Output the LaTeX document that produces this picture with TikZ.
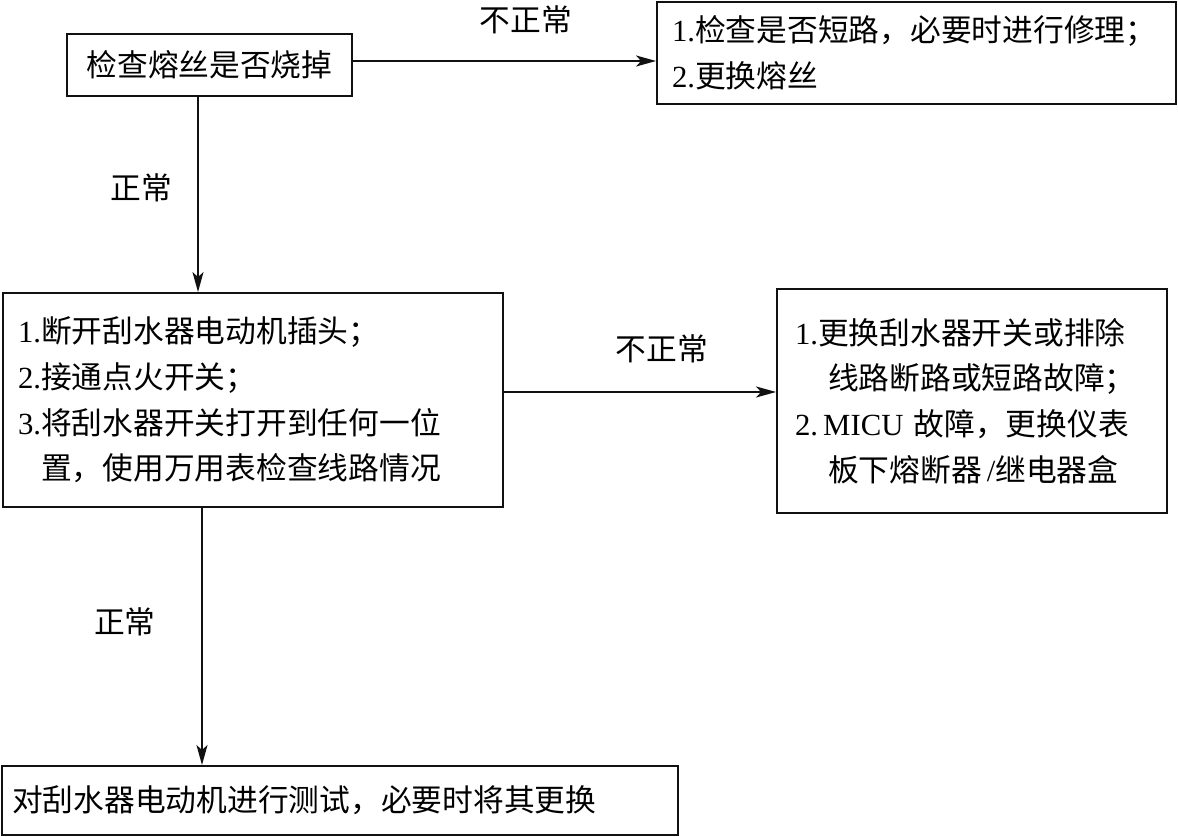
\documentclass[tikz,border=0pt]{standalone}
\usepackage{fontspec}
\setmainfont{Liberation Serif}
\newfontfamily\cjk{Noto Sans CJK SC}
\usetikzlibrary{arrows.meta,positioning}
\definecolor{ink}{HTML}{111111}
\newcommand\boxfont{\fontsize{17.5}{26}\selectfont}
\tikzset{
  flowbox/.style={draw=ink,line width=1.1pt,inner sep=0pt,
                  align=center,font=\boxfont},
  listbox/.style={draw=ink,line width=1.1pt,inner ysep=0pt,
                  align=left,font=\boxfont},
  caselabel/.style={inner sep=0pt,font=\boxfont\cjk},
  flowarr/.style={-{Stealth[length=4mm,width=2.2mm,inset=1mm]},line width=1.1pt,color=ink}
}

\begin{document}
\begin{tikzpicture}[x=0.02cm,y=-0.02cm]
  \useasboundingbox (0,0) rectangle (1178,837);
  % boxes
  \node[flowbox,minimum width=5.7cm,minimum height=1.24cm] (fuse) at (209.5,65)
    {{\cjk 检查熔丝是否烧掉}};
  \node[listbox,text width=9.78cm,inner xsep=0.3cm,minimum height=2.04cm] (repair) at (916.5,53)
    {1.{\cjk 检查是否短路，必要时进行修理；}\\2.{\cjk 更换熔丝}};
  \node[listbox,text width=9.4cm,inner xsep=0.3cm,minimum height=4.28cm] (wiring) at (253,400)
    {1.{\cjk 断开刮水器电动机插头；}\\
     2.{\cjk 接通点火开关；}\\
     3.{\cjk 将刮水器开关打开到任何一位}\\
     \phantom{3.}{\cjk 置，使用万用表检查线路情况}};
  \node[listbox,text width=7.08cm,inner xsep=0.36cm,minimum height=4.48cm] (switch) at (972,401)
    {1.{\cjk 更换刮水器开关或排除}\\
     \hspace*{0.66cm}{\cjk 线路断路或短路故障；}\\
     2.\,MICU\ {\cjk 故障，更换仪表}\\
     \hspace*{0.66cm}{\cjk 板下熔断器}\,/{\cjk 继电器盒}};
  \node[listbox,text width=13.12cm,inner xsep=0.2cm,minimum height=1.38cm] (motor) at (340,800.5)
    {{\cjk 对刮水器电动机进行测试，必要时将其更换}};
  % labels
  \node[caselabel] (bad1) at (526,20) {不正常};
  \node[caselabel] (ok1) at (141,188) {正常};
  \node[caselabel] (bad2) at (662,349) {不正常};
  \node[caselabel] (ok2) at (125,622) {正常};
  % arrows
  \draw[flowarr] (fuse.east |- 0,61) -- (repair.west |- 0,61);
  \draw[flowarr] (fuse.south -| 198,0) -- (wiring.north -| 198,0);
  \draw[flowarr] (wiring.east |- 0,392) -- (switch.west |- 0,392);
  \draw[flowarr] (wiring.south -| 202,0) -- (motor.north -| 202,0);
\end{tikzpicture}
\end{document}
